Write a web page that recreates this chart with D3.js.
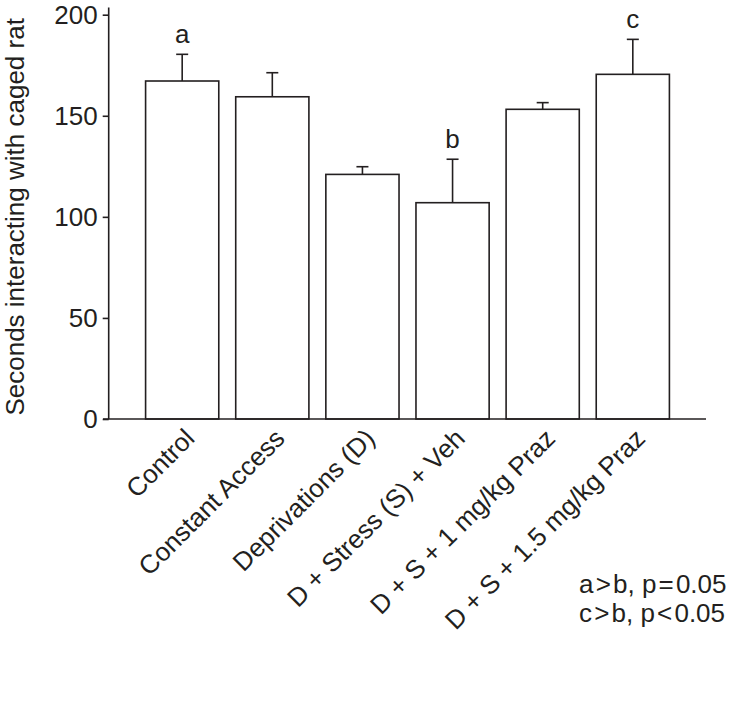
<!DOCTYPE html>
<html>
<head>
<meta charset="utf-8">
<script src="https://cdn.jsdelivr.net/npm/d3@7"></script>
<style>
  body { margin: 0; background: #fff; }
  svg text { font-family: "Liberation Sans", Arial, Helvetica, sans-serif; fill: #231f20; }
</style>
</head>
<body>
<div id="chart"></div>
<script>
const groups = ["Control", "Constant Access", "Deprivations (D)", "D + Stress (S) + Veh",
                "D + S + 1 mg/kg Praz", "D + S + 1.5 mg/kg Praz"];
const means = [167.2, 159.4, 121.0, 107.0, 153.2, 170.5];
const sems = [13.2, 11.9, 3.8, 21.5, 3.3, 17.3];
const letters = ["a", "", "", "b", "", "c"];
const yTicks = [0, 50, 100, 150, 200];
const notes = ["a\u200a>\u200ab, p\u200a=\u200a0.05", "c\u200a>\u200ab, p\u200a<\u200a0.05"];

const W = 737, H = 711;
const ink = "#231f20";
const fs = 26;

const svg = d3.select("#chart").append("svg")
  .attr("width", W)
  .attr("height", H);

const x = d3.scaleBand()
  .domain(groups)
  .range([109, 706])
  .paddingInner(0.188)
  .paddingOuter(0.406);

const y = d3.scaleLinear()
  .domain([0, 200])
  .range([419, 14.7]);

// bars
svg.selectAll("rect.bar")
  .data(groups)
  .join("rect")
    .attr("class", "bar")
    .attr("x", d => x(d))
    .attr("y", (d, i) => y(means[i]))
    .attr("width", x.bandwidth())
    .attr("height", (d, i) => y(0) - y(means[i]))
    .attr("fill", "#fff")
    .attr("stroke", ink)
    .attr("stroke-width", 1.6);

// error bars (upper only)
const cap = 6;
const err = svg.append("g").attr("stroke", ink).attr("stroke-width", 1.6);
groups.forEach((g, i) => {
  const cx = x(g) + x.bandwidth() / 2;
  err.append("line")
    .attr("x1", cx).attr("x2", cx)
    .attr("y1", y(means[i])).attr("y2", y(means[i] + sems[i]));
  err.append("line")
    .attr("x1", cx - cap).attr("x2", cx + cap)
    .attr("y1", y(means[i] + sems[i])).attr("y2", y(means[i] + sems[i]));
  if (letters[i]) {
    svg.append("text")
      .attr("x", cx)
      .attr("y", y(means[i] + sems[i]) - 11)
      .attr("text-anchor", "middle")
      .style("font-size", fs + "px")
      .text(letters[i]);
  }
});

// y axis
const yAxis = svg.append("g")
  .attr("transform", `translate(${x.range()[0] - 0.3},0)`)
  .call(d3.axisLeft(y).tickValues(yTicks).tickSize(6).tickSizeOuter(0).tickPadding(5));
yAxis.select(".domain").remove();
yAxis.append("line")
  .attr("y1", y(0)).attr("y2", y(203.5))
  .attr("stroke", ink).attr("stroke-width", 1.6);
yAxis.selectAll(".tick line").attr("stroke", ink).attr("stroke-width", 1.6);
yAxis.selectAll(".tick text")
  .attr("fill", ink)
  .style("font-size", fs + "px")
  .style("font-family", "'Liberation Sans', Arial, sans-serif");

// x axis
svg.append("line")
  .attr("x1", x.range()[0] - 6).attr("x2", x.range()[1])
  .attr("y1", y(0)).attr("y2", y(0))
  .attr("stroke", ink).attr("stroke-width", 1.6);

svg.selectAll("text.cat")
  .data(groups)
  .join("text")
    .attr("class", "cat")
    .attr("text-anchor", "end")
    .attr("transform", d => `translate(${x(d) + x.bandwidth() / 2 + 14},${y(0) + 21}) rotate(-45)`)
    .style("font-size", fs + "px")
    .text(d => d);

// y label
svg.append("text")
  .attr("transform", `translate(24,${(y(0) + y(200)) / 2}) rotate(-90)`)
  .attr("text-anchor", "middle")
  .style("font-size", fs + "px")
  .text("Seconds interacting with caged rat");

// significance notes
svg.selectAll("text.note")
  .data(notes)
  .join("text")
    .attr("class", "note")
    .attr("x", 579)
    .attr("y", (d, i) => 592.5 + i * 29)
    .style("font-size", fs + "px")
    .text(d => d);
</script>
</body>
</html>
